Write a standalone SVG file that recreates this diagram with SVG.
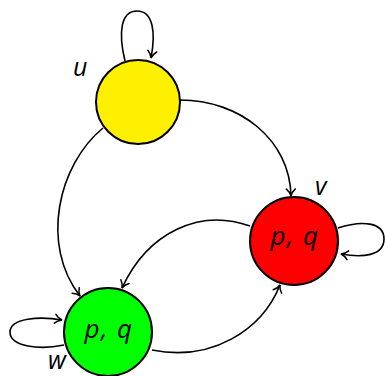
<svg xmlns="http://www.w3.org/2000/svg" width="385" height="376" viewBox="0 0 385 376">
<style>
.node{stroke:#000;stroke-width:2}
.edge{fill:none;stroke:#000;stroke-width:1.6;marker-end:url(#arr)}
.lbl{font-family:"Open Sans","DejaVu Sans",sans-serif;font-style:italic;font-size:25px;fill:#000}
.in{font-family:"Open Sans","DejaVu Sans",sans-serif;font-style:italic;font-size:26px;letter-spacing:1.5px;fill:#000;text-anchor:middle}
</style>
<defs>
<marker id="arr" markerWidth="12" markerHeight="12" refX="9" refY="6" orient="auto" markerUnits="userSpaceOnUse">
<path d="M2,1.5 Q5,5 9,6 Q5,7 2,10.5" fill="none" stroke="#000" stroke-width="1.5" stroke-linecap="round"/>
</marker>
</defs>
<g id="connectors">
<path class="edge" d="M125 61 C118 32,121 11,137 11 C153 11,156 32,151 58"/>
<path class="edge" d="M180 100 C240 100,290 140,291 196"/>
<path class="edge" d="M103 128 C58 165,40 245,80 296"/>
<path class="edge" d="M250 226 C200 208,148 232,122 288"/>
<path class="edge" d="M152 350 C212 362,262 330,280 285"/>
<path class="edge" d="M338 228 C362 220,384 222,384 239 C384 256,362 258,341 254"/>
<path class="edge" d="M64 345 C40 350,10 347,10 332 C10 318,40 316,62 320"/>
</g>
<g id="u">
<circle class="node" cx="138" cy="102" r="42" fill="#FFF000"/>
<text class="lbl" x="73" y="76">u</text>
</g>
<g id="v">
<circle class="node" cx="294" cy="241" r="44" fill="#FF0000"/>
<text class="in" x="295" y="245">p, q</text>
<text class="lbl" x="315" y="195">v</text>
</g>
<g id="w">
<circle class="node" cx="108" cy="332" r="44" fill="#00FF00"/>
<text class="in" x="109" y="338">p, q</text>
<text class="lbl" x="48" y="369">w</text>
</g>
</svg>
